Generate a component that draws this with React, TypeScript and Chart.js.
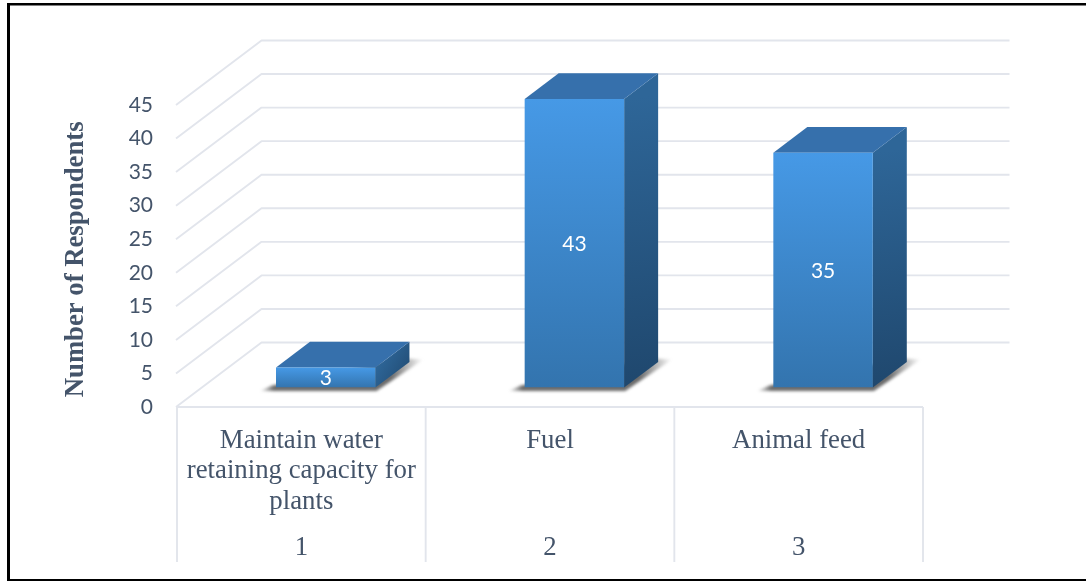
import React, { useEffect, useRef } from "react";
import { Chart, registerables } from "chart.js";

Chart.register(...registerables);

const categoryLabels = [
  ["Maintain water", "retaining capacity for", "plants"],
  ["Fuel"],
  ["Animal feed"],
];
const groupLabels = ["1", "2", "3"];
const respondents = [3, 43, 35];
const yMax = 45;
const yStep = 5;

const TEXT = "#44546a";
const GRID = "#e2e5ec";
const FLOOR_DX = 84.5;
const FLOOR_DY = 64.5;
const BAR_DX = 34;
const BAR_DY = 25.7;
const BAR_SHIFT_X = 24.4;
const BAR_SHIFT_Y = 19.4;
const AXIS_CELL_BOTTOM = 562;

const poly = (ctx: CanvasRenderingContext2D, pts: number[][]) => {
  ctx.beginPath();
  pts.forEach(([x, y], i) => (i ? ctx.lineTo(x, y) : ctx.moveTo(x, y)));
  ctx.closePath();
};

const box3d = {
  id: "box3d",
  beforeDatasetsDraw(chart: any) {
    const { ctx, scales } = chart;
    const { x, y } = scales;
    ctx.save();
    ctx.strokeStyle = GRID;
    ctx.lineWidth = 1.9;
    ctx.lineJoin = "round";
    y.ticks.forEach((t: any, i: number) => {
      const py = y.getPixelForTick(i);
      ctx.beginPath();
      ctx.moveTo(x.left - 1, py);
      ctx.lineTo(x.left + FLOOR_DX, py - FLOOR_DY);
      ctx.lineTo(x.right + FLOOR_DX + 2, py - FLOOR_DY);
      ctx.stroke();
    });
    // category cells below the floor
    const base = y.getPixelForValue(0);
    const cell = (x.right - x.left) / groupLabels.length;
    ctx.beginPath();
    ctx.moveTo(x.left, base);
    ctx.lineTo(x.right, base);
    for (let i = 0; i <= groupLabels.length; i++) {
      ctx.moveTo(x.left + i * cell, base);
      ctx.lineTo(x.left + i * cell, AXIS_CELL_BOTTOM);
    }
    ctx.stroke();

    // floor shadows and the side/top faces of each box
    const meta = chart.getDatasetMeta(0);
    meta.data.forEach((bar: any) => {
      const L = bar.x - bar.width / 2 + BAR_SHIFT_X;
      const R = bar.x + bar.width / 2 + BAR_SHIFT_X;
      const T = bar.y - BAR_SHIFT_Y;
      const B = bar.base - BAR_SHIFT_Y;
      ctx.save();
      ctx.filter = "blur(1.5px)";
      const sg = ctx.createLinearGradient(L - 17, 0, R + 48, 0);
      sg.addColorStop(0, "rgba(70,70,70,0)");
      sg.addColorStop(0.09, "rgba(70,70,70,0.8)");
      sg.addColorStop(0.8, "rgba(70,70,70,0.8)");
      sg.addColorStop(1, "rgba(70,70,70,0)");
      ctx.fillStyle = sg;
      poly(ctx, [
        [L - 16, B + 3.5],
        [R + 1, B + 3.5],
        [R + 48, B - 28],
        [R + 30, B - 29],
        [L - 4, B - 2],
      ]);
      ctx.fill();
      ctx.restore();

      const side = ctx.createLinearGradient(R, T, R + BAR_DX, B);
      side.addColorStop(0, "#2e6698");
      side.addColorStop(1, "#1f476d");
      ctx.fillStyle = side;
      poly(ctx, [
        [R, T],
        [R + BAR_DX, T - BAR_DY],
        [R + BAR_DX, B - BAR_DY],
        [R, B],
      ]);
      ctx.fill();

      ctx.fillStyle = "#3670ac";
      poly(ctx, [
        [L, T],
        [L + BAR_DX, T - BAR_DY],
        [R + BAR_DX, T - BAR_DY],
        [R, T],
      ]);
      ctx.fill();
    });
    ctx.restore();
    // the chart's own bars are the front faces, pushed into the depth of the floor
    ctx.save();
    ctx.translate(BAR_SHIFT_X, -BAR_SHIFT_Y);
  },
  afterDatasetsDraw(chart: any) {
    const { ctx } = chart;
    ctx.restore();
    const meta = chart.getDatasetMeta(0);
    ctx.save();
    ctx.fillStyle = "#ffffff";
    ctx.font = "21px Lato";
    ctx.textAlign = "center";
    ctx.textBaseline = "middle";
    meta.data.forEach((bar: any, i: number) => {
      ctx.fillText(
        String(respondents[i]),
        bar.x + BAR_SHIFT_X,
        (bar.y + bar.base) / 2 - BAR_SHIFT_Y + 1
      );
    });
    ctx.restore();
  },
  afterDraw(chart: any) {
    const { ctx, width, height } = chart;
    ctx.save();
    ctx.fillStyle = "#000000";
    ctx.fillRect(7, 3, width - 7, 2.5);
    ctx.fillRect(7, 3, 3, height - 3);
    ctx.fillRect(7, height - 2, width - 7, 2);
    ctx.restore();
  },
};

export default function App() {
  const ref = useRef<HTMLCanvasElement>(null);

  useEffect(() => {
    if (!ref.current) return;
    const chart = new Chart(ref.current, {
      type: "bar",
      data: {
        labels: categoryLabels as any,
        datasets: [
          {
            label: "Number of Respondents",
            data: respondents,
            barPercentage: 0.4,
            categoryPercentage: 1,
            borderWidth: 0,
            backgroundColor: (c: any) => {
              const ch = c.chart;
              const sc = ch.scales.y;
              const fallback = "#3f86cc";
              if (!sc || c.raw === undefined) return fallback;
              const top = sc.getPixelForValue(c.raw);
              const bottom = sc.getPixelForValue(0);
              if (!Number.isFinite(top) || !Number.isFinite(bottom)) return fallback;
              const g = ch.ctx.createLinearGradient(0, top, 0, bottom);
              g.addColorStop(0, "#4699e6");
              g.addColorStop(1, "#3374ae");
              return g;
            },
          },
        ],
      },
      options: {
        responsive: false,
        animation: false,
        layout: { padding: { top: 105, right: 163, bottom: 0, left: 0 } },
        plugins: { legend: { display: false }, tooltip: { enabled: false } },
        scales: {
          y: {
            min: 0,
            max: yMax,
            afterFit: (s: any) => {
              s.width = 177;
            },
            border: { display: false },
            grid: { display: false, drawTicks: false },
            ticks: {
              stepSize: yStep,
              color: TEXT,
              padding: 24,
              font: { family: "Lato", size: 21 },
            },
            title: {
              display: true,
              text: "Number of Respondents ",
              color: TEXT,
              font: { family: '"Liberation Serif"', size: 26.7, weight: "bold" },
              padding: { top: 60, bottom: 0 },
            },
          },
          x: {
            offset: true,
            afterFit: (s: any) => {
              s.height = 125;
            },
            border: { display: false },
            grid: { display: false, drawTicks: false },
            ticks: {
              autoSkip: false,
              maxRotation: 0,
              minRotation: 0,
              color: TEXT,
              padding: 18,
              font: { family: '"Liberation Serif"', size: 26.8, lineHeight: 1.155 },
            },
          },
          x2: {
            type: "category",
            position: "bottom",
            labels: groupLabels,
            offset: true,
            afterFit: (s: any) => {
              s.height = 49;
            },
            border: { display: false },
            grid: { display: false, drawTicks: false },
            ticks: {
              autoSkip: false,
              maxRotation: 0,
              color: TEXT,
              padding: 0,
              font: { family: '"Liberation Serif"', size: 26.8 },
            },
          },
        },
      },
      plugins: [box3d],
    } as any);
    return () => chart.destroy();
  }, []);

  return (
    <canvas
      ref={ref}
      width={1086}
      height={581}
      style={{ position: "fixed", left: 0, top: 0, display: "block", background: "#fff" }}
    />
  );
}
